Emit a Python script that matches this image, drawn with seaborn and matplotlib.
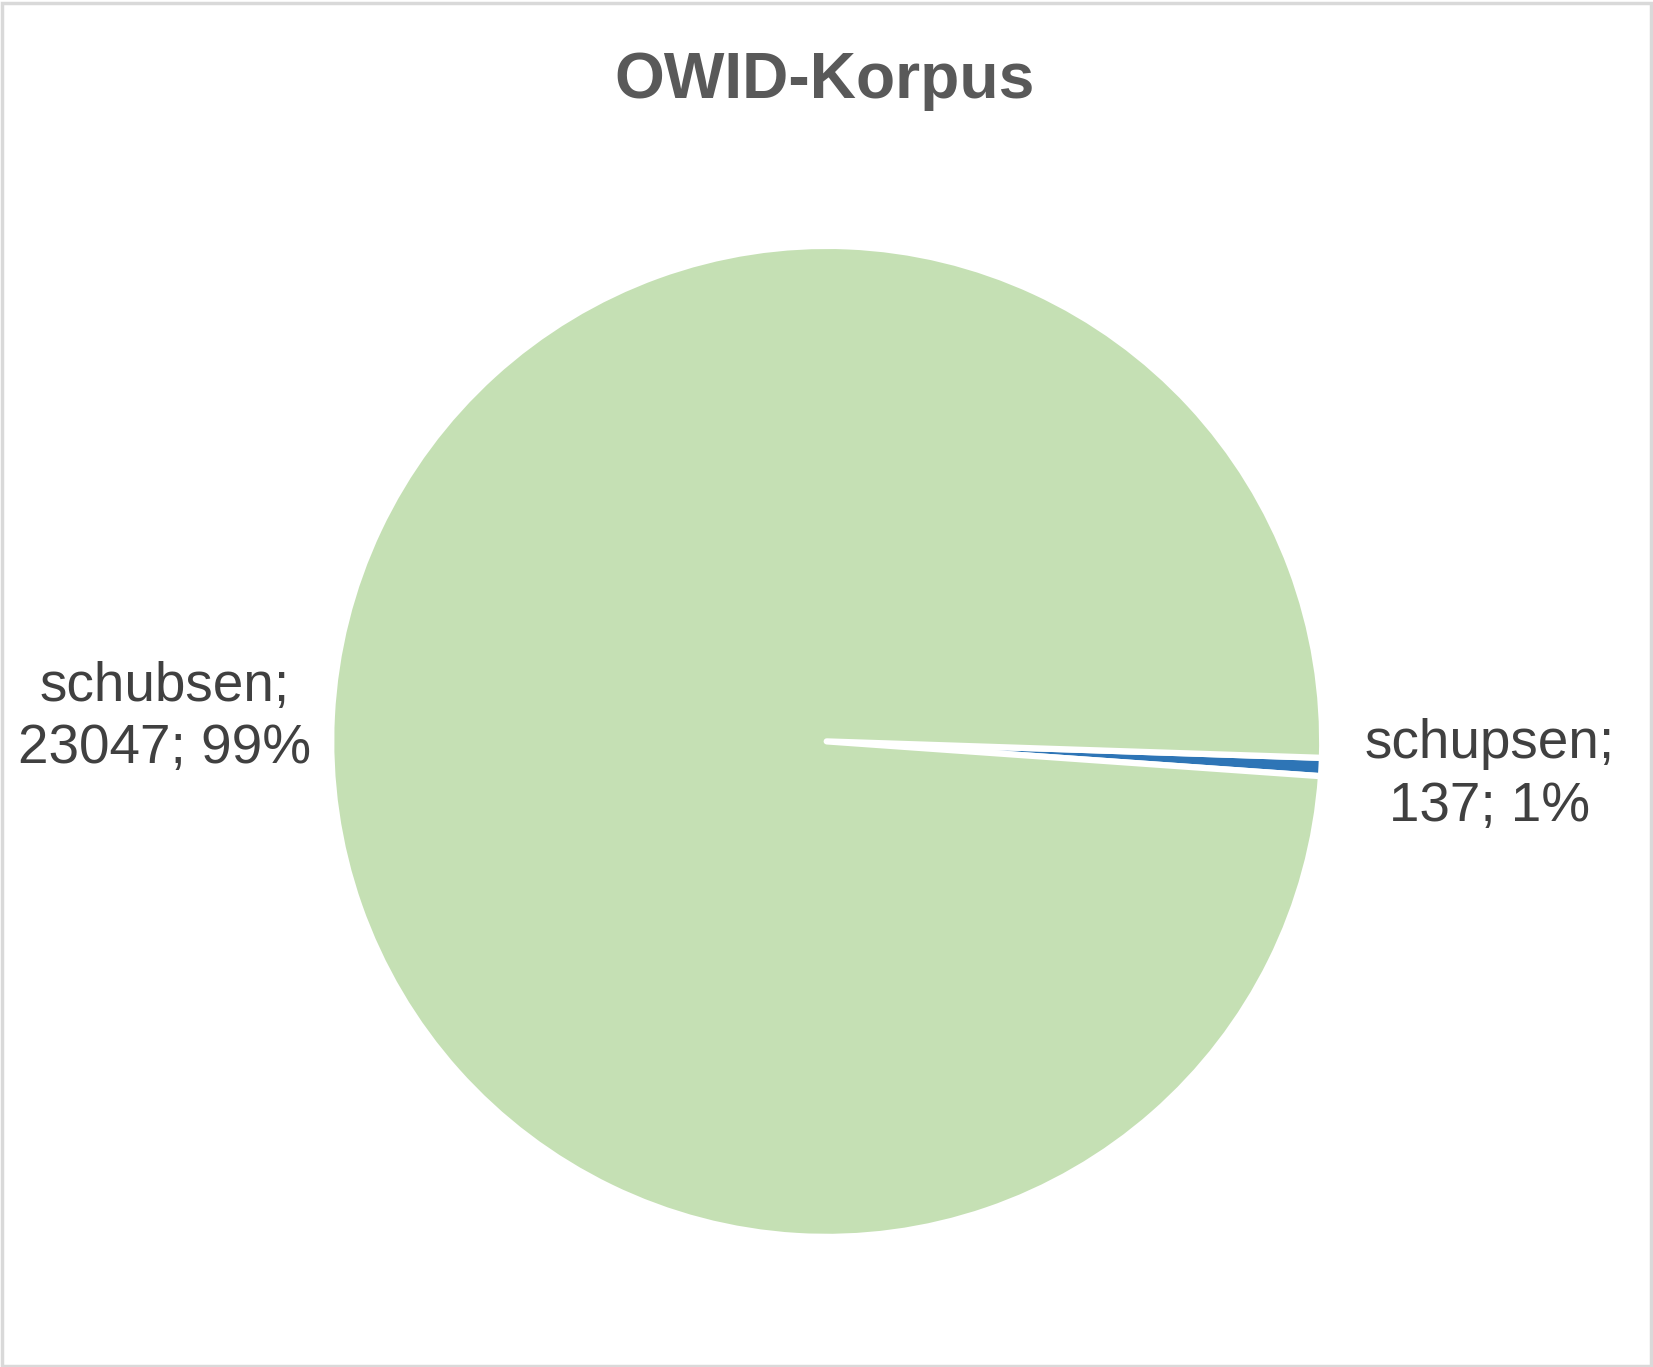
import matplotlib
matplotlib.use("Agg")
import matplotlib.pyplot as plt
import seaborn as sns
from matplotlib.patches import Rectangle

# Data
categories = ["schupsen", "schubsen"]
counts = [137, 23047]
percents = ["1%", "99%"]
colors = ["#2E75B6", "#C5E0B4"]
title = "OWID-Korpus"

sns.set_theme(style="white")
plt.rcParams["font.family"] = ["Liberation Sans", "DejaVu Sans"]

W, H, DPI = 1653, 1367, 100
fig = plt.figure(figsize=(W / DPI, H / DPI), dpi=DPI)
fig.patch.set_facecolor("white")
ax = fig.add_axes([0, 0, 1, 1])

labels = [f"{c};\n{n}; {p}" for c, n, p in zip(categories, counts, percents)]
wedges, texts = ax.pie(
    counts,
    labels=labels,
    colors=colors,
    startangle=-1.9,
    counterclock=False,
    labeldistance=1.339,
    radius=1.0,
    wedgeprops=dict(edgecolor="white", linewidth=4.5, joinstyle="round"),
    textprops=dict(fontsize=39.5, color="#404040"),
)
R = 495.5
for t in texts:
    t.set_horizontalalignment("center")
    t.set_multialignment("center")
    t.set_verticalalignment("center")
    t.set_linespacing(1.27)
# nudge the left label slightly downward (as in the reference layout)
x0, y0 = texts[1].get_position()
texts[1].set_position((x0, y0 - 11 / R))

# pixel-consistent limits
cx, cy = 826.7, 741.4
ax.set_xlim(-cx / R, (W - cx) / R)
ax.set_ylim(-(H - cy) / R, cy / R)
ax.set_aspect("auto")
ax.axis("off")

fig.text(0.5 * (617 + 1033) / W, 1 - 98 / H, title, ha="center", va="baseline",
         fontsize=46.2, fontweight="bold", color="#595959")

# outer border
fig.patches.append(Rectangle((0.001, 0.001), 0.998, 0.997, transform=fig.transFigure,
                             fill=False, edgecolor="#D9D9D9", linewidth=2.5))

fig.savefig("out.png", dpi=DPI, facecolor="white")
